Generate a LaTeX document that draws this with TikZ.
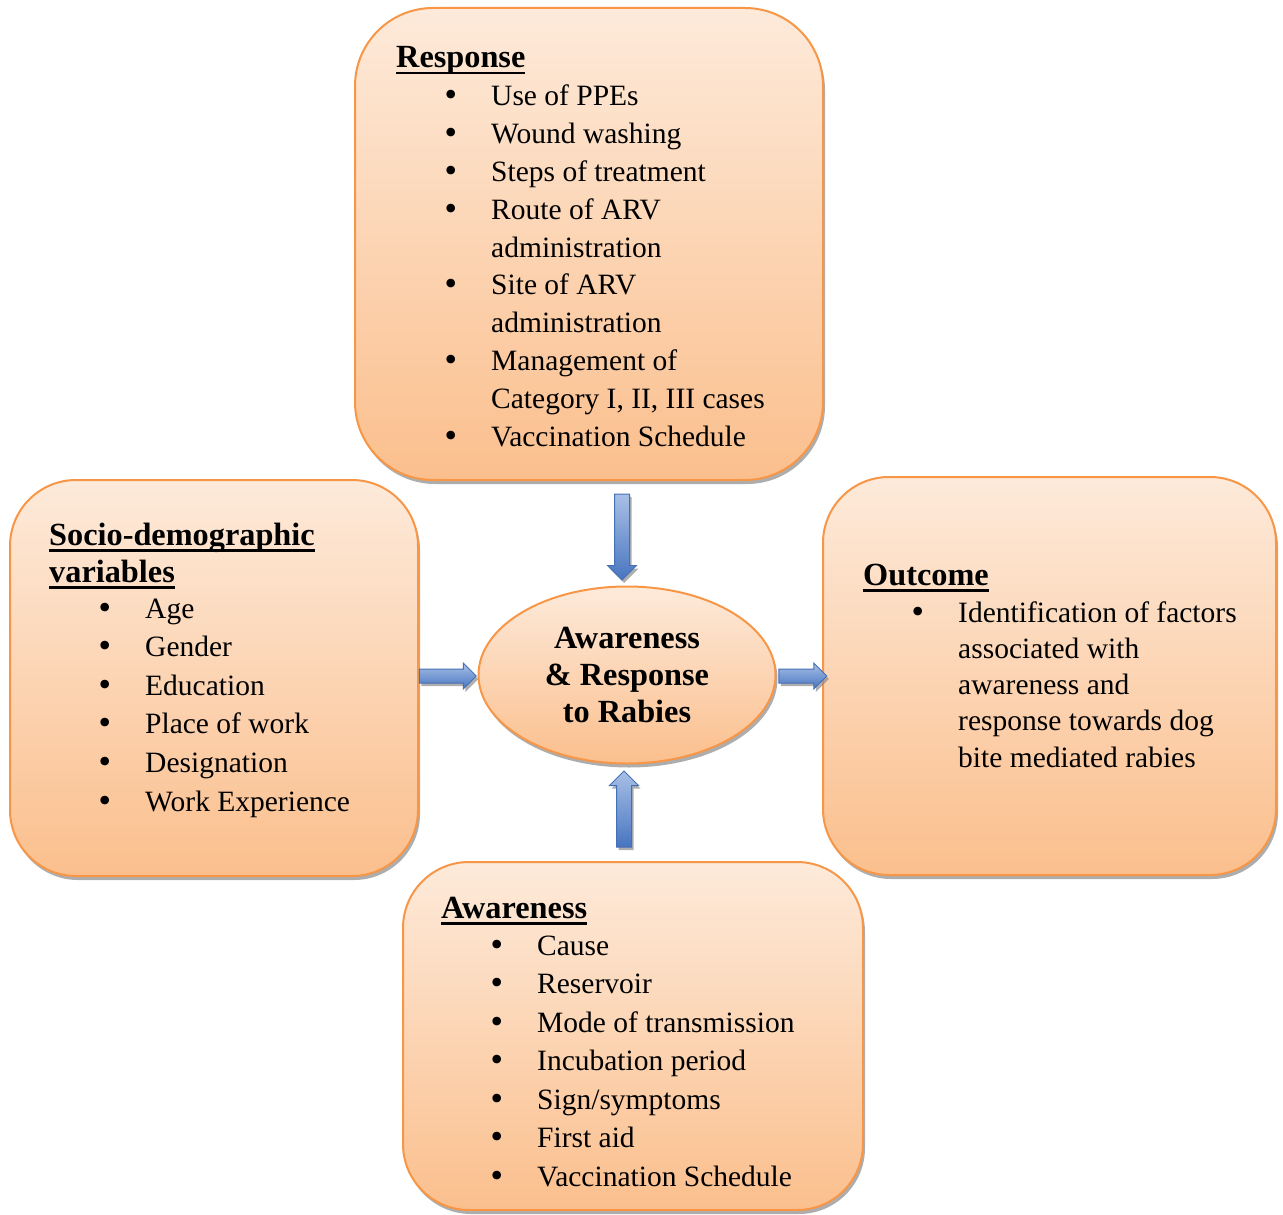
\documentclass[tikz,border=0pt]{standalone}
\usepackage{fontspec}
\setmainfont{Liberation Serif}
\newfontfamily\bulletfont{DejaVu Sans}
\usetikzlibrary{shapes.geometric,shapes.arrows,shadows,calc}

\definecolor{boxtop}{RGB}{253,234,218}
\definecolor{boxbottom}{RGB}{251,191,141}
\definecolor{boxline}{RGB}{247,150,70}
\definecolor{arrowtop}{RGB}{168,192,230}
\definecolor{arrowbottom}{RGB}{72,117,192}
\definecolor{arrowline}{RGB}{70,112,182}

% underlined heading, Word style
\newcommand{\titleul}[1]{\setbox0\hbox{#1}\rlap{\rule[-6.5pt]{\wd0}{2.4pt}}\box0}
% larger list bullet
\newcommand{\bigbullet}{\hspace*{-3pt}{\bulletfont •}}

\tikzset{
  infobox/.style={rectangle, draw=boxline, line width=2pt, top color=boxtop, bottom color=boxbottom,
    drop shadow={shadow xshift=2pt, shadow yshift=-4pt, fill=black!40, opacity=.8}},
  hubshape/.style={ellipse, draw=boxline, line width=2pt, top color=boxtop, bottom color=boxbottom,
    minimum width=297pt, minimum height=177pt, inner sep=0pt, align=center,
    font=\bfseries\fontsize{32.3}{37}\selectfont,
    drop shadow={shadow xshift=2pt, shadow yshift=-4pt, fill=black!40, opacity=.8}},
  boxtitle/.style={anchor=base west, inner sep=0pt, font=\bfseries\fontsize{32.3}{37}\selectfont},
  boxlist/.style={anchor=base west, inner sep=0pt},
  blockarrow/.style={single arrow, draw=arrowline, line width=1pt, top color=arrowtop, bottom color=arrowbottom,
    drop shadow={shadow xshift=2pt, shadow yshift=-3pt, fill=black!45, opacity=.7}}
}

\begin{document}
\begin{tikzpicture}[x=1pt, y=-1pt]
  \useasboundingbox (0,0) rectangle (1283,1215);

  % boxes
  \node[infobox, rounded corners=78pt, minimum width=468pt, minimum height=472pt] (response) at (589,244) {};
  \node[infobox, rounded corners=66pt, minimum width=408pt, minimum height=396pt] (socio) at (214,678) {};
  \node[infobox, rounded corners=66pt, minimum width=453pt, minimum height=398pt] (outcome) at (1049.5,676) {};
  \node[infobox, rounded corners=66pt, minimum width=460pt, minimum height=348pt] (awareness) at (633,1036) {};
  \node[hubshape] (hub) at (627,675) {Awareness\\\& Response\\to Rabies};

  % arrows
  \node[blockarrow, shape border rotate=270, inner xsep=7pt, inner ysep=0pt, single arrow head extend=7pt,
    minimum height=86pt, xshift=-5pt]
    (arrtop) at ($(hub.north |- response.south)!0.5!(hub.north)$) {};
  \node[blockarrow, shape border rotate=90, inner xsep=7pt, inner ysep=0pt, single arrow head extend=7pt,
    minimum height=76pt, xshift=-3pt]
    (arrbottom) at ($(hub.south)!0.5!(hub.south |- awareness.north)$) {};
  \node[blockarrow, inner xsep=0pt, inner ysep=6.5pt, single arrow head extend=6pt, minimum height=57pt,
    xshift=-4pt, yshift=-1pt]
    (arrleft) at ($(socio.east |- hub.west)!0.5!(hub.west)$) {};
  \node[blockarrow, inner xsep=0pt, inner ysep=6.5pt, single arrow head extend=6pt, minimum height=48pt,
    yshift=-1pt]
    (arrright) at ($(hub.east)!0.5!(outcome.west |- hub.east)$) {};

  % response
  \node[boxtitle] (resptitle) at (396,68) {\titleul{Response}};
  \node[boxlist, font=\fontsize{29.5}{37.8}\selectfont] (resplist) at (445,106) {%
    \begin{tabular}[t]{@{}p{46pt}@{}l@{}}
      \bigbullet & Use of PPEs\\
      \bigbullet & Wound washing\\
      \bigbullet & Steps of treatment\\
      \bigbullet & Route of ARV\\
                 & administration\\
      \bigbullet & Site of ARV\\
                 & administration\\
      \bigbullet & Management of\\
                 & Category I, II, III cases\\
      \bigbullet & Vaccination Schedule
    \end{tabular}};

  % socio-demographic
  \node[boxtitle] (sociotitle) at (49,545) {%
    \begin{tabular}[t]{@{}l@{}}
      \titleul{Socio-demographic}\\
      \titleul{variables}
    \end{tabular}};
  \node[boxlist, font=\fontsize{29.5}{38.6}\selectfont] (sociolist) at (99,618) {%
    \begin{tabular}[t]{@{}p{46pt}@{}l@{}}
      \bigbullet & Age\\
      \bigbullet & Gender\\
      \bigbullet & Education\\
      \bigbullet & Place of work\\
      \bigbullet & Designation\\
      \bigbullet & Work Experience
    \end{tabular}};

  % outcome
  \node[boxtitle] (outtitle) at (863,585) {\titleul{Outcome}};
  \node[boxlist, font=\fontsize{29.5}{36.25}\selectfont] (outlist) at (912,622) {%
    \begin{tabular}[t]{@{}p{46pt}@{}l@{}}
      \bigbullet & Identification of factors\\
                 & associated with\\
                 & awareness and\\
                 & response towards dog\\
                 & bite mediated rabies
    \end{tabular}};

  % awareness
  \node[boxtitle] (awaretitle) at (441,918) {\titleul{Awareness}};
  \node[boxlist, font=\fontsize{29.5}{38.5}\selectfont] (awarelist) at (491,955) {%
    \begin{tabular}[t]{@{}p{46pt}@{}l@{}}
      \bigbullet & Cause\\
      \bigbullet & Reservoir\\
      \bigbullet & Mode of transmission\\
      \bigbullet & Incubation period\\
      \bigbullet & Sign/symptoms\\
      \bigbullet & First aid\\
      \bigbullet & Vaccination Schedule
    \end{tabular}};
\end{tikzpicture}
\end{document}
